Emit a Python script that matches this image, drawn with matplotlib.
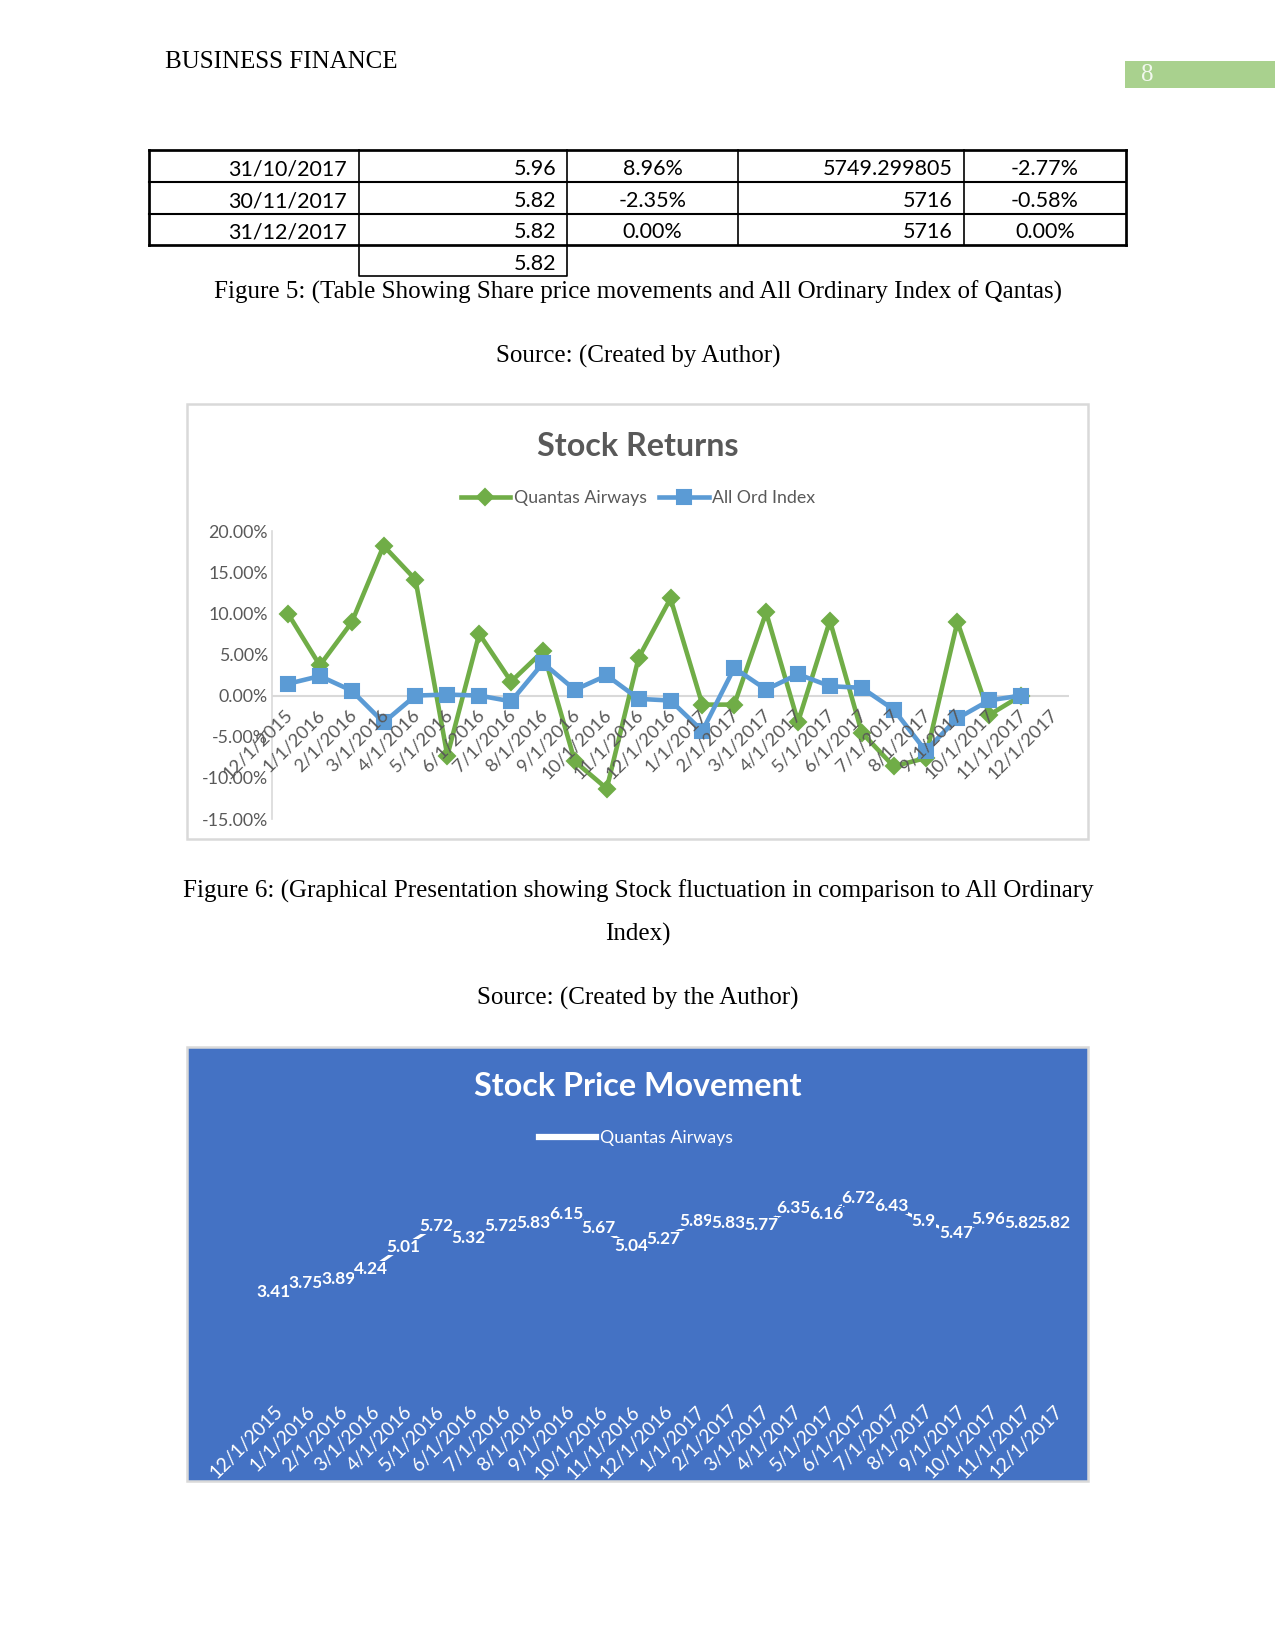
import matplotlib
matplotlib.use("Agg")
import matplotlib.pyplot as plt
from matplotlib.patches import Rectangle

# category labels (month starts)
dates = ["12/1/2015", "1/1/2016", "2/1/2016", "3/1/2016", "4/1/2016", "5/1/2016",
         "6/1/2016", "7/1/2016", "8/1/2016", "9/1/2016", "10/1/2016", "11/1/2016",
         "12/1/2016", "1/1/2017", "2/1/2017", "3/1/2017", "4/1/2017", "5/1/2017",
         "6/1/2017", "7/1/2017", "8/1/2017", "9/1/2017", "10/1/2017", "11/1/2017",
         "12/1/2017"]

# monthly returns in percent (24 values)
qantas_ret = [9.97, 3.67, 8.90, 18.20, 14.10, -7.30, 7.50, 1.70, 5.40, -8.00,
              -11.30, 4.60, 11.80, -1.10, -1.10, 10.10, -3.20, 9.10, -4.50, -8.60,
              -7.60, 8.96, -2.35, 0.00]
allord_ret = [1.43, 2.37, 0.60, -3.27, 0.00, 0.12, 0.00, -0.70, 3.96, 0.70,
              2.45, -0.40, -0.60, -4.30, 3.35, 0.73, 2.60, 1.14, 0.94, -1.70,
              -6.70, -2.77, -0.58, 0.00]

# share price (25 values)
prices = [3.41, 3.75, 3.89, 4.24, 5.01, 5.72, 5.32, 5.72, 5.83, 6.15, 5.67, 5.04,
          5.27, 5.89, 5.83, 5.77, 6.35, 6.16, 6.72, 6.43, 5.9, 5.47, 5.96, 5.82, 5.82]

# table rows at the top of the page
tbl_dates = ["31/10/2017", "30/11/2017", "31/12/2017"]
tbl_price = ["5.96", "5.82", "5.82"]
tbl_ret = ["8.96%", "-2.35%", "0.00%"]
tbl_index = ["5749.299805", "5716", "5716"]
tbl_idx_ret = ["-2.77%", "-0.58%", "0.00%"]
tbl_extra = "5.82"

W, H = 1275, 1650
fig = plt.figure(figsize=(8.5, 11), dpi=150)

page = fig.add_axes([0, 0, 1, 1])
page.set_xlim(0, W)
page.set_ylim(H, 0)
page.axis("off")

serif = "Liberation Serif"
sans = "Lato"
grey = "#595959"


def px_axes(x0, y0, x1, y1):
    return fig.add_axes([x0 / W, 1 - y1 / H, (x1 - x0) / W, (y1 - y0) / H])


# header
page.text(165, 62, "BUSINESS FINANCE", family=serif, fontsize=12, va="center", ha="left")
page.add_patch(Rectangle((1125, 61), 150, 27, fc="#A9D18E", ec="none"))
page.text(1147, 75, "8", family=serif, fontsize=12, color="#F2F8EE", va="center", ha="center")

# table
cols = [149, 359, 567, 738, 964, 1126]
rows = [150, 182, 214, 245]
for y in rows:
    lw = 1.3 if y in (rows[0], rows[-1]) else 1.0
    page.plot([cols[0], cols[-1]], [y, y], color="black", lw=lw)
for i, x in enumerate(cols):
    lw = 1.3 if i in (0, len(cols) - 1) else 0.8
    page.plot([x, x], [rows[0], rows[-1]], color="black", lw=lw)
page.plot([cols[1], cols[1], cols[2], cols[2]], [rows[-1], 276, 276, rows[-1]], color="black", lw=0.8)

tfs = 10.3
for r in range(3):
    yc = (rows[r] + rows[r + 1]) / 2 + 3
    page.text(cols[1] - 12, yc, tbl_dates[r], family=sans, fontsize=tfs, ha="right", va="center")
    page.text(cols[2] - 11, yc, tbl_price[r], family=sans, fontsize=tfs, ha="right", va="center")
    page.text((cols[2] + cols[3]) / 2, yc, tbl_ret[r], family=sans, fontsize=tfs, ha="center", va="center")
    page.text(cols[4] - 11, yc, tbl_index[r], family=sans, fontsize=tfs, ha="right", va="center")
    page.text((cols[4] + cols[5]) / 2, yc, tbl_idx_ret[r], family=sans, fontsize=tfs, ha="center", va="center")
page.text(cols[2] - 11, 264, tbl_extra, family=sans, fontsize=tfs, ha="right", va="center")

# captions
page.text(638, 292, "Figure 5: (Table Showing Share price movements and All Ordinary Index of Qantas)",
          family=serif, fontsize=12, ha="center", va="center")
page.text(638, 356, "Source: (Created by Author)", family=serif, fontsize=12, ha="center", va="center")
page.text(638, 891, "Figure 6: (Graphical Presentation showing Stock fluctuation in comparison to All Ordinary",
          family=serif, fontsize=12, ha="center", va="center")
page.text(638, 934, "Index)", family=serif, fontsize=12, ha="center", va="center")
page.text(638, 998, "Source: (Created by the Author)", family=serif, fontsize=12, ha="center", va="center")

# chart frames
page.add_patch(Rectangle((187, 404), 901, 435, fc="white", ec="#D9D9D9", lw=1.2))
page.add_patch(Rectangle((187, 1047), 901, 434, fc="#4472C4", ec="#D9D9D9", lw=1.2))

# ---- Stock Returns chart
page.text(638, 446, "Stock Returns", family=sans, fontsize=15.5, weight="bold", color=grey,
          ha="center", va="center")
ax1 = px_axes(272, 531, 1069, 819)
ax1.patch.set_alpha(0)
x_ret = list(range(len(qantas_ret)))
l1, = ax1.plot(x_ret, qantas_ret, color="#70AD47", lw=2.2, marker="D", ms=5.5, label="Quantas Airways")
l2, = ax1.plot(x_ret, allord_ret, color="#5B9BD5", lw=2.2, marker="s", ms=6.5, label="All Ord Index")
ax1.set_xlim(-0.5, len(dates) - 0.5)
ax1.set_ylim(-15, 20)
ax1.axhline(0, color="#D9D9D9", lw=1, zorder=0)
for s in ["top", "right", "bottom"]:
    ax1.spines[s].set_visible(False)
ax1.spines["left"].set_color("#D9D9D9")
ax1.set_xticks([])
ax1.set_yticks(range(-15, 21, 5))
ax1.set_yticklabels([f"{v:.2f}%" for v in range(-15, 21, 5)], family=sans, fontsize=8.5, color=grey)
ax1.tick_params(axis="y", length=0, pad=2)
for i, lab in enumerate(dates):
    ax1.annotate(lab, (i, 0), xytext=(1, -8), textcoords="offset points", rotation=45,
                 rotation_mode="anchor", ha="right", va="center", family=sans, fontsize=8.8, color=grey)
fig.legend(handles=[l1, l2], loc="center", bbox_to_anchor=(638 / W, 1 - 498 / H), ncol=2,
           frameon=False, prop={"family": sans, "size": 8.5}, labelcolor=grey,
           handlelength=2.8, columnspacing=0.7, handletextpad=0.2)

# ---- Stock Price Movement chart
page.text(638, 1087, "Stock Price Movement", family=sans, fontsize=15.5, weight="bold", color="white",
          ha="center", va="center")
ax2 = px_axes(257, 1161, 1070, 1390)
ax2.patch.set_alpha(0)
x_px = list(range(len(prices)))
l3, = ax2.plot(x_px, prices, color="white", lw=1.5, label="Quantas Airways")
for i, v in enumerate(prices):
    ax2.text(i, v, f"{v:g}", family=sans, fontsize=8.3, weight="bold", color="white",
             ha="center", va="center",
             bbox=dict(boxstyle="square,pad=0", fc="#4472C4", ec="none"))
ax2.set_xlim(-0.5, len(dates) - 0.5)
ax2.set_ylim(0, 8)
ax2.axis("off")
for i, lab in enumerate(dates):
    ax2.annotate(lab, (i, 0), xytext=(3, -9), textcoords="offset points", rotation=45,
                 rotation_mode="anchor", ha="right", va="center", family=sans, fontsize=9.2,
                 color="white")
leg2 = fig.legend(handles=[l3], loc="center", bbox_to_anchor=(636 / W, 1 - 1138 / H), frameon=False,
                  prop={"family": sans, "size": 8.5}, labelcolor="white", handlelength=3.2,
                  handletextpad=0.2)
leg2.get_lines()[0].set_linewidth(3)

fig.savefig("out.png", dpi=150)
